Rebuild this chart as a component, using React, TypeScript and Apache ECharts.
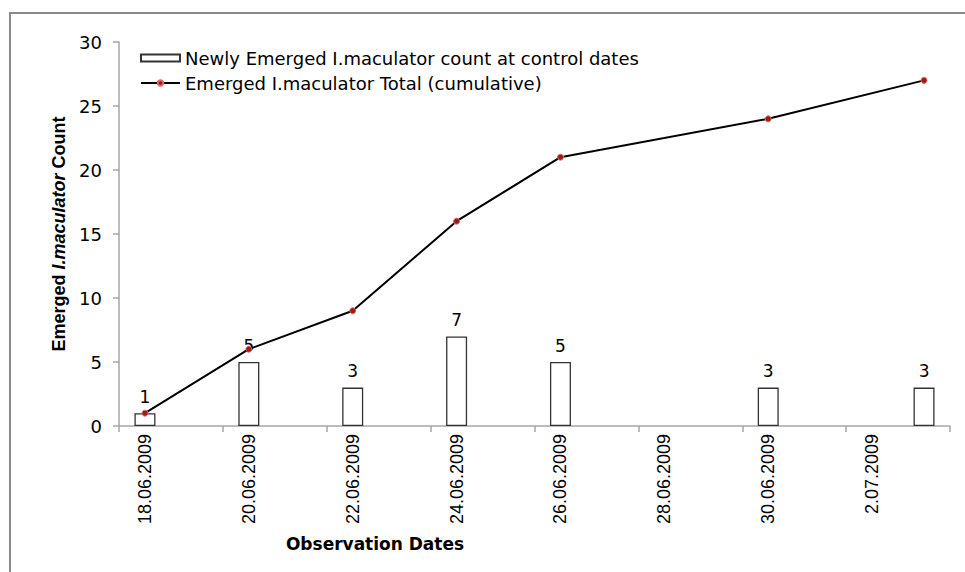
import React, { useEffect, useRef } from "react";
import * as echarts from "echarts";

// One category per day on the observation date axis
const categories = [
  "18.06.2009", "19.06.2009", "20.06.2009", "21.06.2009", "22.06.2009", "23.06.2009",
  "24.06.2009", "25.06.2009", "26.06.2009", "27.06.2009", "28.06.2009", "29.06.2009",
  "30.06.2009", "1.07.2009", "2.07.2009", "3.07.2009",
];
const newlyEmerged = [1, null, 5, null, 3, null, 7, null, 5, null, null, null, 3, null, null, 3];
const cumulativeTotal = [1, null, 6, null, 9, null, 16, null, 21, null, null, null, 24, null, null, 27];
const yTicks = { min: 0, max: 30, interval: 5 };

const barName = "Newly Emerged I.maculator count at control dates";
const lineName = "Emerged I.maculator Total (cumulative)";

const HFONT = "'DejaVu Sans', sans-serif";
const VFONT = "'Liberation Sans', Arial, sans-serif";

export default function App() {
  const ref = useRef<HTMLDivElement>(null);
  useEffect(() => {
    if (!ref.current) return;
    const chart = echarts.init(ref.current, null, { renderer: "svg" });
    chart.setOption({
      animation: false,
      backgroundColor: "#ffffff",
      graphic: [
        {
          type: "rect",
          shape: { x: 10, y: 13, width: 1000, height: 700 },
          style: { fill: "none", stroke: "#8a8a8a", lineWidth: 2 },
          silent: true,
          z: -1,
        },
      ],
      grid: { left: 119, top: 42, right: 15, bottom: 146, containLabel: false },
      legend: {
        orient: "vertical",
        left: 140,
        top: 49,
        padding: 0,
        itemWidth: 39,
        itemHeight: 7,
        itemGap: 7,
        itemTextGap: 5,
        textStyle: { fontFamily: HFONT, fontSize: 18, color: "#000", lineHeight: 18 },
        data: [
          { name: barName, icon: "rect" },
          { name: lineName },
        ],
      },
      xAxis: {
        type: "category",
        data: categories,
        boundaryGap: true,
        name: "Observation Dates",
        nameLocation: "middle",
        nameGap: 109,
        nameTextStyle: {
          fontFamily: HFONT,
          fontWeight: "bold",
          fontSize: 17,
          color: "#000",
          padding: [0, 319, 0, 0],
          verticalAlign: "top",
        },
        axisLine: { lineStyle: { color: "#a6a6a6", width: 1.5 } },
        axisTick: { show: true, interval: 1, length: 6, alignWithLabel: false, lineStyle: { color: "#a6a6a6", width: 1.5 } },
        axisLabel: {
          interval: 1,
          rotate: 90,
          margin: 8,
          fontFamily: VFONT,
          fontSize: 18,
          color: "#000",
        },
        splitLine: { show: false },
      },
      yAxis: {
        type: "value",
        min: yTicks.min,
        max: yTicks.max,
        interval: yTicks.interval,
        name: "{a|Emerged }{b|I.maculator}{a| Count}",
        nameLocation: "middle",
        nameRotate: 90,
        nameGap: 48,
        nameTextStyle: {
          rich: {
            a: { fontFamily: VFONT, fontWeight: "bold", fontSize: 18, color: "#000" },
            b: { fontFamily: VFONT, fontWeight: "bold", fontStyle: "italic", fontSize: 18, color: "#000" },
          },
        },
        axisLine: { show: true, lineStyle: { color: "#a6a6a6", width: 1.5 } },
        axisTick: { show: true, length: 6, lineStyle: { color: "#a6a6a6", width: 1.5 } },
        axisLabel: { margin: 17, fontFamily: HFONT, fontSize: 18, color: "#000" },
        splitLine: { show: false },
      },
      series: [
        {
          name: barName,
          type: "bar",
          data: newlyEmerged,
          barWidth: 21,
          itemStyle: { color: "#ffffff", borderColor: "#333333", borderWidth: 1.3 },
          label: {
            show: true,
            position: "top",
            distance: 8,
            fontFamily: HFONT,
            fontSize: 17,
            color: "#000",
          },
        },
        {
          name: lineName,
          type: "line",
          data: cumulativeTotal,
          connectNulls: true,
          symbol: "circle",
          symbolSize: 6,
          lineStyle: { color: "#000000", width: 2 },
          itemStyle: { color: "#a01818", borderColor: "#e06a6a", borderWidth: 1 },
          z: 3,
        },
      ],
    });
    return () => chart.dispose();
  }, []);
  return (
    <div
      ref={ref}
      style={{ position: "fixed", left: 0, top: 0, width: 965, height: 572, background: "#fff" }}
    />
  );
}
